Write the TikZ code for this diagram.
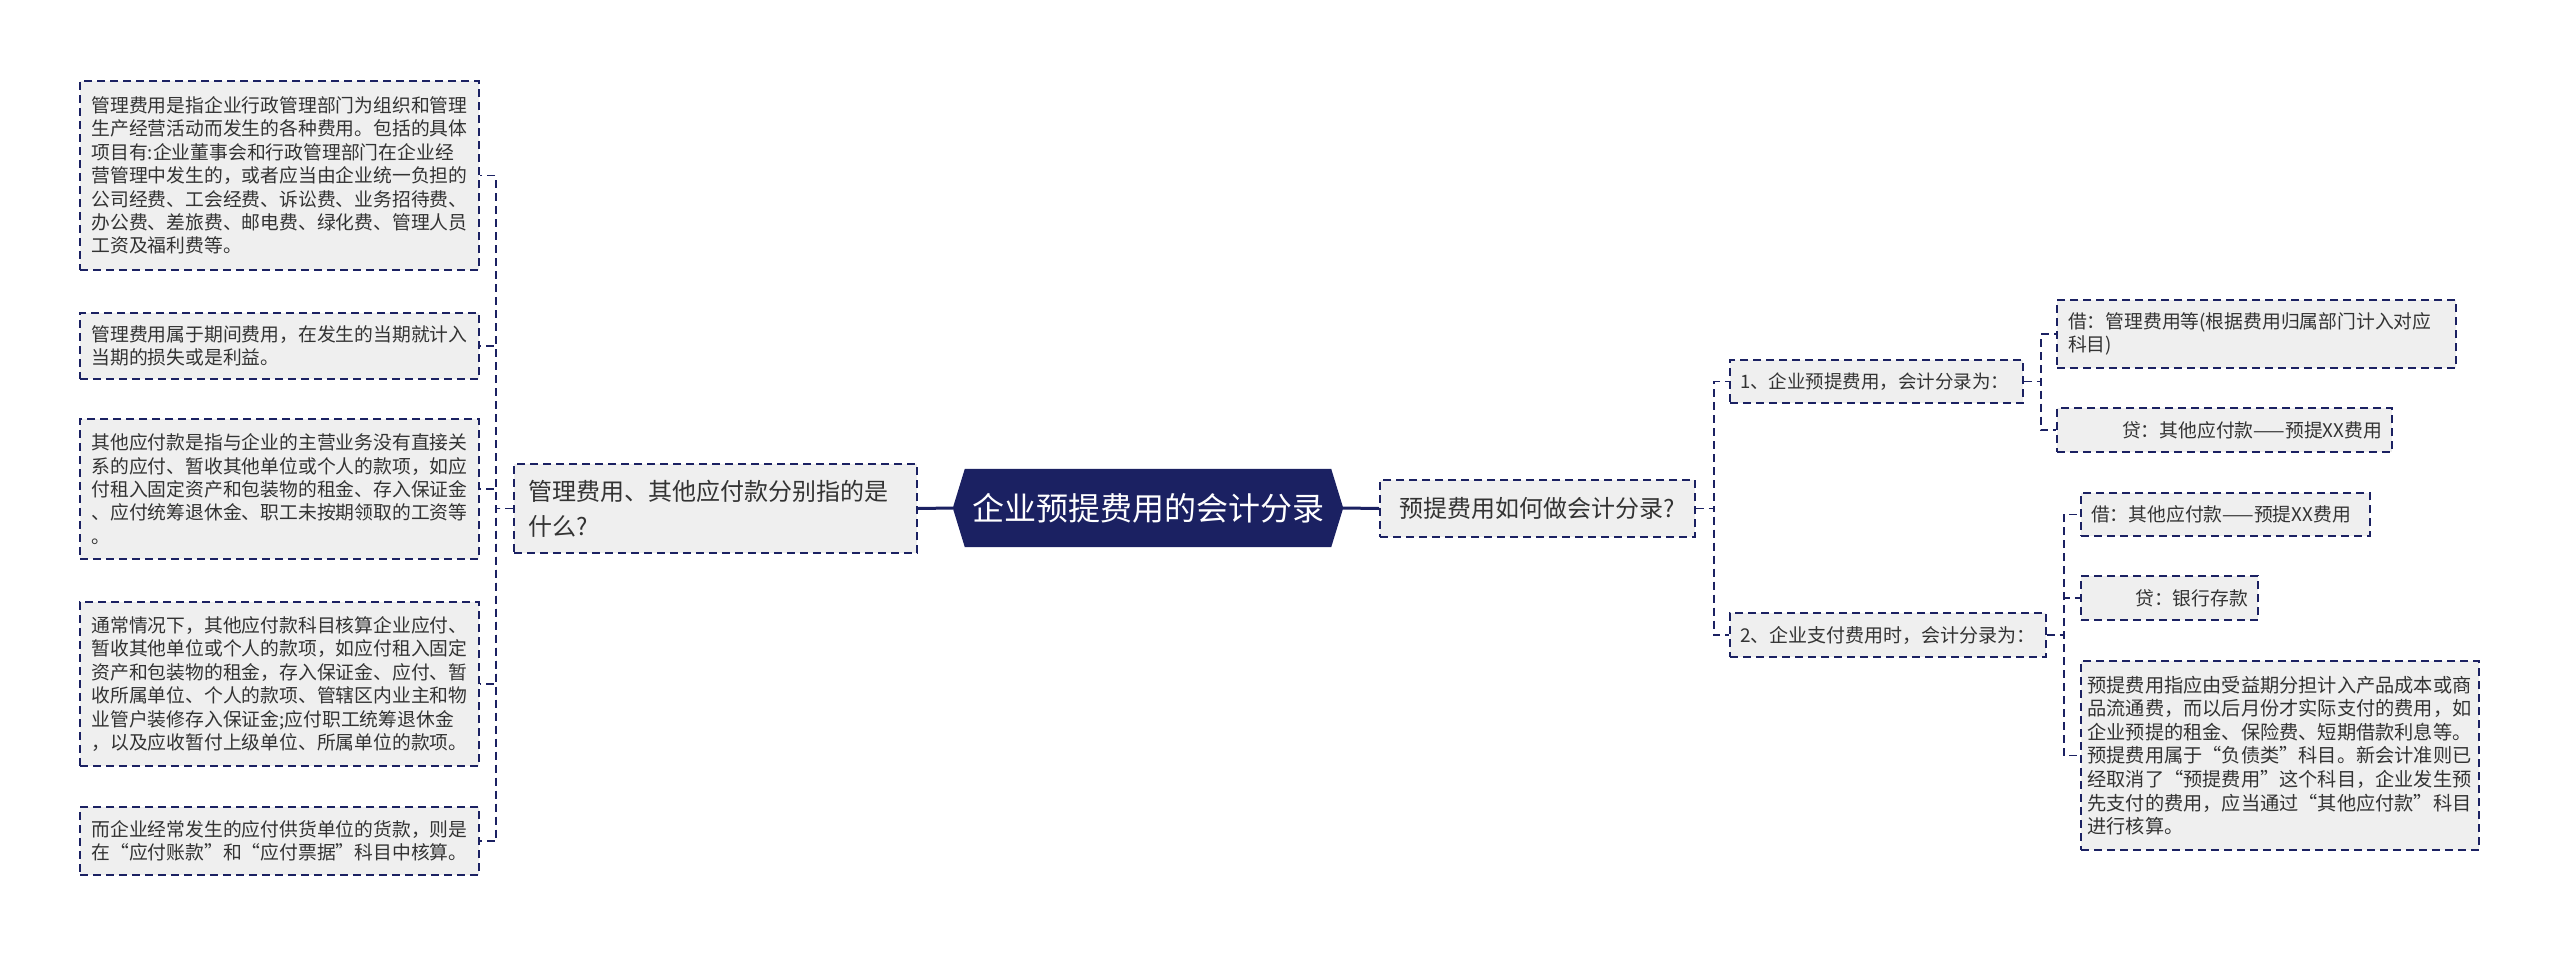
\documentclass[tikz,border=0pt]{standalone}
\usepackage{fontspec}
\setmainfont{Noto Sans CJK SC}
\usetikzlibrary{calc}
\definecolor{navy}{HTML}{1B2162}
\definecolor{boxgray}{HTML}{EFEFEF}
\definecolor{txt}{HTML}{333333}
\pgfdeclarelayer{bg}
\pgfdeclarelayer{paper}
\pgfsetlayers{paper,bg,main}
\begin{document}
\begin{tikzpicture}[x=1pt,y=-1pt,
  dbox/.style={draw=navy, line width=1.8pt, dash pattern=on 8pt off 5pt, fill=boxgray, text=txt, inner sep=0pt, anchor=center},
  leaf/.style={dbox, font=\fontsize{18.8}{23.4}\selectfont, align=left},
  midtxt/.style={dbox, font=\fontsize{24}{35}\selectfont, align=left},
  conn/.style={draw=navy, line width=1.8pt, dash pattern=on 8pt off 5pt},
  rootconn/.style={draw=navy, line width=3pt},
]
\begin{pgfonlayer}{paper}
\fill[white] (0,0) rectangle (2560,956);
\end{pgfonlayer}
\useasboundingbox (0,0) rectangle (2560,956);

% left leaves
\node[leaf, minimum width=399pt, minimum height=189pt, text width=376pt] (B1) at (279.5,175.5) {管理费用是指企业行政管理部门为组织和管理\\生产经营活动而发生的各种费用。包括的具体\\项目有:企业董事会和行政管理部门在企业经\\营管理中发生的，或者应当由企业统一负担的\\公司经费、工会经费、诉讼费、业务招待费、\\办公费、差旅费、邮电费、绿化费、管理人员\\工资及福利费等。};
\node[leaf, minimum width=399pt, minimum height=66pt, text width=376pt] (B2) at (279.5,346) {管理费用属于期间费用，在发生的当期就计入\\当期的损失或是利益。};
\node[leaf, minimum width=399pt, minimum height=140pt, text width=376pt] (B3) at (279.5,489) {其他应付款是指与企业的主营业务没有直接关\\系的应付、暂收其他单位或个人的款项，如应\\付租入固定资产和包装物的租金、存入保证金\\、应付统筹退休金、职工未按期领取的工资等\\。};
\node[leaf, minimum width=399pt, minimum height=164pt, text width=376pt] (B4) at (279.5,684) {通常情况下，其他应付款科目核算企业应付、\\暂收其他单位或个人的款项，如应付租入固定\\资产和包装物的租金，存入保证金、应付、暂\\收所属单位、个人的款项、管辖区内业主和物\\业管户装修存入保证金;应付职工统筹退休金\\，以及应收暂付上级单位、所属单位的款项。};
\node[leaf, minimum width=399pt, minimum height=68pt, text width=376pt] (B5) at (279.5,841) {而企业经常发生的应付供货单位的货款，则是\\在“应付账款”和“应付票据”科目中核算。};

% middle left
\node[midtxt, minimum width=403pt, minimum height=89pt, text width=375pt] (M) at (715.5,508.5) {管理费用、其他应付款分别指的是\\什么?};

% root
\node[minimum width=390pt, minimum height=78pt, inner sep=0pt, text=white, font=\fontsize{32}{38}\selectfont] (R) at (1148,508) {企业预提费用的会计分录};
\begin{pgfonlayer}{bg}
\fill[navy] (R.west) -- ([xshift=12pt]R.north west) -- ([xshift=-12pt]R.north east) -- (R.east) -- ([xshift=-12pt]R.south east) -- ([xshift=12pt]R.south west) -- cycle;
\end{pgfonlayer}

% right side
\node[dbox, minimum width=315pt, minimum height=57pt, font=\fontsize{24}{30}\selectfont] (Q) at (1537.5,508.5) {预提费用如何做会计分录?};
\node[leaf, font=\fontsize{18.5}{23.4}\selectfont, minimum width=293pt, minimum height=43pt, text width=273pt] (N1) at (1876.5,381.5) {1、企业预提费用，会计分录为：};
\node[leaf, font=\fontsize{19}{23.4}\selectfont, minimum width=316pt, minimum height=44pt, text width=296pt] (N2) at (1888,635) {2、企业支付费用时，会计分录为：};

\node[leaf, minimum width=399pt, minimum height=68pt, text width=377pt] (C11) at (2256.5,334) {借：管理费用等(根据费用归属部门计入对应\\科目)};
\node[leaf, align=right, minimum width=335pt, minimum height=44pt, text width=315pt] (C12) at (2224.5,430) {贷：其他应付款——预提XX费用};
\node[leaf, minimum width=289pt, minimum height=43pt, text width=269pt] (C21) at (2225.5,514.5) {借：其他应付款——预提XX费用};
\node[leaf, align=right, minimum width=177pt, minimum height=44pt, text width=157pt] (C22) at (2169.5,598) {贷：银行存款};
\node[leaf, font=\fontsize{19.2}{23.6}\selectfont, minimum width=398pt, minimum height=189pt, text width=385pt] (C23) at (2280,755.5) {预提费用指应由受益期分担计入产品成本或商\\品流通费，而以后月份才实际支付的费用，如\\企业预提的租金、保险费、短期借款利息等。\\预提费用属于“负债类”科目。新会计准则已\\经取消了“预提费用”这个科目，企业发生预\\先支付的费用，应当通过“其他应付款”科目\\进行核算。};

% connectors
\draw[rootconn] (R.west) -- (M.east);
\draw[rootconn] (R.east) -- (Q.west);
\foreach \b in {B1,B2,B3,B4,B5} \draw[conn] (M.west) -- ++(-17,0) |- (\b.east);
\foreach \n in {N1,N2} \draw[conn] (Q.east) -- ++(18,0) |- (\n.west);
\foreach \c in {C11,C12} \draw[conn] (N1.east) -- ++(17,0) |- (\c.west);
\foreach \c in {C21,C22,C23} \draw[conn] (N2.east) -- ++(17,0) |- (\c.west);
\end{tikzpicture}
\end{document}
